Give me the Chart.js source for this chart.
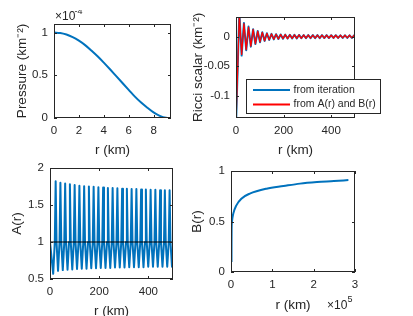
<!DOCTYPE html>
<html><head><meta charset="utf-8">
<script src="https://cdn.jsdelivr.net/npm/chart.js@4.4.1/dist/chart.umd.min.js"></script>
<style>
html,body{margin:0;padding:0;background:#fff;overflow:hidden;}
#fig{position:relative;width:413px;height:316px;background:#fff;overflow:hidden;}
canvas{position:absolute;}
</style></head><body><div id="fig"></div>
<script>
// ---------- data ----------
// Panel 1: pressure (units of 1e-4 km^-2) vs r (km)
const pressR   = [0,0.5,1,1.5,2,2.5,3,3.5,4,4.5,5,5.5,6,6.5,7,7.5,8,8.5,9,9.4];
const pressVal = [1.00,0.995,0.977,0.947,0.905,0.853,0.79,0.722,0.648,0.57,0.49,0.41,0.33,0.25,0.18,0.12,0.065,0.025,0.003,0];

// Panel 2: Ricci scalar (km^-2) vs r (km)
const ricciR = [0,14,23.7,33.3,43,52.6,62.3,71.9,81.6,91.2,100.9,110.5,120.2,129.8,139.5,149.1,158.8,168.4,178.1,187.7,197.4,207,216.7,226.3,236,245.6,255.3,264.9,274.6,284.2,293.9,303.5,313.2,322.8,332.5,342.1,351.8,361.4,371.1,380.7,390.4,400,409.7,419.3,429,438.6,448.3,457.9,467.6,477.2,486.9,496.5,500];
const ricciIter = [-0.150,0.042,-0.032,0.023,-0.023,0.017,-0.017,0.0125,-0.0125,0.0095,-0.0095,
  0.0072,-0.0072,0.0057,-0.0057,0.0046,-0.0046,0.0041,-0.0041,0.0036,-0.0036,
  0.0033,-0.0033,0.003,-0.003,0.003,-0.003,0.0028,-0.0028,0.0027,-0.0027,
  0.0026,-0.0026,0.0025,-0.0025,0.0025,-0.0025,0.0024,-0.0024,0.0024,-0.0024,
  0.0023,-0.0023,0.0023,-0.0023,0.0022,-0.0022,0.0022,-0.0022,0.0022,-0.0022,
  0.0022,0.0];
const ricciAB = [-0.145,0.038,-0.030,0.022,-0.022,0.016,-0.016,0.012,-0.012,0.009,-0.009,
  0.007,-0.007,0.0055,-0.0055,0.0045,-0.0045,0.004,-0.004,0.0035,-0.0035,
  0.0033,-0.0033,0.003,-0.003,0.003,-0.003,0.0028,-0.0028,0.0027,-0.0027,
  0.0026,-0.0026,0.0025,-0.0025,0.0025,-0.0025,0.0024,-0.0024,0.0024,-0.0024,
  0.0023,-0.0023,0.0023,-0.0023,0.0022,-0.0022,0.0022,-0.0022,0.0022,-0.0022,
  0.0022,0.0];
const seriesNames = ['from iteration','from A(r) and B(r)'];

// Panel 3: A(r) vs r (km)
const aR = [0,13,19.5,23,
  26.5,32.65,38.8,42.3, 45.8,51.95,58.1,61.6, 65.1,71.25,77.4,80.9, 84.4,90.55,96.7,100.2,
  103.7,109.85,116,119.5, 123,129.15,135.3,138.8, 142.3,148.45,154.6,158.1, 161.6,167.75,173.9,177.4,
  180.9,187.05,193.2,196.7, 200.2,206.35,212.5,216, 219.5,225.65,231.8,235.3, 238.8,244.95,251.1,254.6,
  258.1,264.25,270.4,273.9, 277.4,283.55,289.7,293.2, 296.7,302.85,309,312.5, 316,322.15,328.3,331.8,
  335.3,341.45,347.6,351.1, 354.6,360.75,366.9,370.4, 373.9,380.05,386.2,389.7, 393.2,399.35,405.5,409,
  412.5,418.65,424.8,428.3, 431.8,437.95,444.1,447.6, 451.1,457.25,463.4,466.9, 470.4,476.55,482.7,486.2,
  489.7,495.85,500];
const aVal = [1.0,0.57,1.0,1.82,
  1.0,0.61,1.0,1.80, 1.0,0.62,1.0,1.79, 1.0,0.625,1.0,1.78, 1.0,0.63,1.0,1.77,
  1.0,0.635,1.0,1.76, 1.0,0.64,1.0,1.755, 1.0,0.64,1.0,1.75, 1.0,0.645,1.0,1.745,
  1.0,0.645,1.0,1.74, 1.0,0.65,1.0,1.735, 1.0,0.65,1.0,1.73, 1.0,0.65,1.0,1.73,
  1.0,0.655,1.0,1.725, 1.0,0.655,1.0,1.72, 1.0,0.655,1.0,1.72, 1.0,0.66,1.0,1.715,
  1.0,0.66,1.0,1.715, 1.0,0.66,1.0,1.71, 1.0,0.66,1.0,1.71, 1.0,0.665,1.0,1.705,
  1.0,0.665,1.0,1.705, 1.0,0.665,1.0,1.70, 1.0,0.665,1.0,1.70, 1.0,0.665,1.0,1.70,
  1.0,0.665,0.70];
const aRef = [1, 1]; // horizontal reference line A = 1
const aRefR = [0, 500];

// Panel 4: B(r) vs r (km)
const bR   = [1200,1300,1500,2300,5500,13000,25000,45500,86000,127000,167000,208000,249000,284000];
const bVal = [0.10,0.30,0.42,0.495,0.578,0.66,0.726,0.776,0.825,0.851,0.875,0.89,0.90,0.91];

// ---------- drawing ----------
const FONT = "'Liberation Sans', Arial, Helvetica, sans-serif";
const INK = '#262626';
const BLUE = '#0072BD';
const RED = '#FF0000';
const pts = (xs, ys) => xs.map((x, i) => ({x, y: ys[i]}));
const fmt = v => String(+Number(v).toFixed(6));

const frame = {
  id: 'frame',
  afterDatasetsDraw(chart) {
    const {ctx, chartArea: a} = chart;
    const x = chart.scales.x, y = chart.scales.y, TL = 3;
    ctx.save();
    ctx.strokeStyle = INK; ctx.lineWidth = 1;
    ctx.beginPath();
    x.ticks.forEach(t => {
      const p = Math.round(x.getPixelForValue(t.value)) + 0.5;
      ctx.moveTo(p, a.bottom); ctx.lineTo(p, a.bottom - TL);
      ctx.moveTo(p, a.top); ctx.lineTo(p, a.top + TL);
    });
    y.ticks.forEach(t => {
      const p = Math.round(y.getPixelForValue(t.value)) + 0.5;
      ctx.moveTo(a.left, p); ctx.lineTo(a.left + TL, p);
      ctx.moveTo(a.right, p); ctx.lineTo(a.right - TL, p);
    });
    ctx.stroke();
    ctx.strokeRect(a.left + 0.5, a.top + 0.5, a.right - a.left - 1, a.bottom - a.top - 1);
    ctx.restore();
  }
};

function panel(o) {
  const YW = 48, PT = 14, PR = o.pr || 12, XH = o.xh || 40;
  const w = o.area.r - o.area.l + YW + PR;
  const h = o.area.b - o.area.t + PT + XH;
  const ox = o.area.l - YW, oy = o.area.t - PT;
  const cv = document.createElement('canvas');
  cv.width = w; cv.height = h;
  cv.style.left = ox + 'px'; cv.style.top = oy + 'px';
  cv.style.width = w + 'px'; cv.style.height = h + 'px';
  document.getElementById('fig').appendChild(cv);

  const overlay = {
    id: 'overlay',
    afterDraw(chart) {
      const ctx = chart.ctx;
      ctx.save();
      ctx.textAlign = 'left'; ctx.textBaseline = 'middle';
      (o.texts || []).forEach(t => {
        ctx.font = t.size + 'px ' + FONT;
        ctx.fillStyle = INK;
        ctx.fillText(t.text, t.x - ox, t.y - oy);
      });
      const L = o.legend;
      if (L) {
        ctx.fillStyle = '#fff';
        ctx.fillRect(L.x - ox, L.y - oy, L.w, L.h);
        ctx.strokeStyle = INK; ctx.lineWidth = 1;
        ctx.strokeRect(L.x - ox + 0.5, L.y - oy + 0.5, L.w - 1, L.h - 1);
        chart.data.datasets.forEach((ds, i) => {
          const yy = L.rows[i] - oy;
          ctx.strokeStyle = ds.borderColor; ctx.lineWidth = 2;
          ctx.beginPath(); ctx.moveTo(L.lx0 - ox, yy); ctx.lineTo(L.lx1 - ox, yy); ctx.stroke();
          ctx.fillStyle = INK; ctx.font = '10.5px ' + FONT;
          ctx.fillText(ds.label, L.tx - ox, yy);
        });
      }
      ctx.restore();
    }
  };

  const tickFont = {family: FONT, size: 11.5};
  const titleFont = {family: FONT, size: 13.5};
  new Chart(cv, {
    type: 'line',
    data: {datasets: o.datasets},
    options: {
      responsive: false, animation: false, devicePixelRatio: 1,
      layout: {padding: {top: PT, right: PR, left: 0, bottom: 0}},
      plugins: {legend: {display: false}, tooltip: {enabled: false}},
      elements: {point: {radius: 0}, line: {tension: 0, borderCapStyle: 'butt', borderJoinStyle: 'round'}},
      scales: {
        x: {
          type: 'linear', min: o.x.min, max: o.x.max,
          grid: {display: false, drawTicks: false}, border: {display: false},
          ticks: {stepSize: o.x.step, includeBounds: false, font: tickFont, color: INK, padding: 6,
                  maxRotation: 0, autoSkip: false, callback: o.x.cb || fmt},
          title: {display: true, text: 'r (km)', font: titleFont, color: INK, padding: {top: 0, bottom: 0}},
          afterFit: s => { s.height = XH; }
        },
        y: {
          type: 'linear', min: o.y.min, max: o.y.max,
          grid: {display: false, drawTicks: false}, border: {display: false},
          ticks: {stepSize: o.y.step, includeBounds: false, font: tickFont, color: INK, padding: 6,
                  autoSkip: false, callback: fmt},
          title: {display: true, text: o.y.title, font: titleFont, color: INK,
                  padding: {top: YW - o.ydist - 8.1, bottom: 0}},
          afterFit: s => { s.width = YW; }
        }
      }
    },
    plugins: [frame, overlay]
  });
}

// Panel 1
panel({
  area: {l: 54, t: 24, r: 171, b: 118}, ydist: 32,
  x: {min: 0, max: 9.4, step: 2},
  y: {min: 0, max: 1.1, step: 0.5, title: 'Pressure (km\u207B\u00B2)'},
  datasets: [{data: pts(pressR, pressVal), borderColor: BLUE, borderWidth: 2, cubicInterpolationMode: 'monotone'}],
  texts: [{text: '\u00D710', x: 55, y: 16.5, size: 12}, {text: '-4', x: 74.5, y: 11.5, size: 9}]
});

// Panel 2 (red drawn on top of blue)
panel({
  area: {l: 236, t: 17, r: 355, b: 118}, ydist: 38, pr: 30,
  x: {min: 0, max: 500, step: 200},
  y: {min: -0.137, max: 0.033, step: 0.05, title: 'Ricci scalar (km\u207B\u00B2)'},
  datasets: [
    {label: seriesNames[0], data: pts(ricciR, ricciIter), borderColor: BLUE, borderWidth: 2, order: 1},
    {label: seriesNames[1], data: pts(ricciR, ricciAB), borderColor: RED, borderWidth: 1.3, order: 0}
  ],
  legend: {x: 246, y: 79, w: 135, h: 35, rows: [90, 104.5], lx0: 253, lx1: 290, tx: 293.5}
});

// Panel 3 (black reference line on top)
panel({
  area: {l: 50, t: 168, r: 173, b: 279}, ydist: 33,
  x: {min: 0, max: 500, step: 200},
  y: {min: 0.5, max: 2, step: 0.5, title: 'A(r)'},
  datasets: [
    {data: pts(aR, aVal), borderColor: BLUE, borderWidth: 2, order: 1},
    {data: pts(aRefR, aRef), borderColor: '#000000', borderWidth: 1.2, order: 0}
  ]
});

// Panel 4
panel({
  area: {l: 231, t: 171, r: 355, b: 272}, ydist: 34, xh: 41,
  x: {min: 0, max: 300000, step: 100000, cb: v => fmt(v / 100000)},
  y: {min: 0, max: 1, step: 0.5, title: 'B(r)'},
  datasets: [{data: pts(bR, bVal), borderColor: BLUE, borderWidth: 2, cubicInterpolationMode: 'monotone'}],
  texts: [{text: '\u00D710', x: 327, y: 306, size: 12}, {text: '5', x: 347.5, y: 300, size: 9}]
});
</script></body></html>
